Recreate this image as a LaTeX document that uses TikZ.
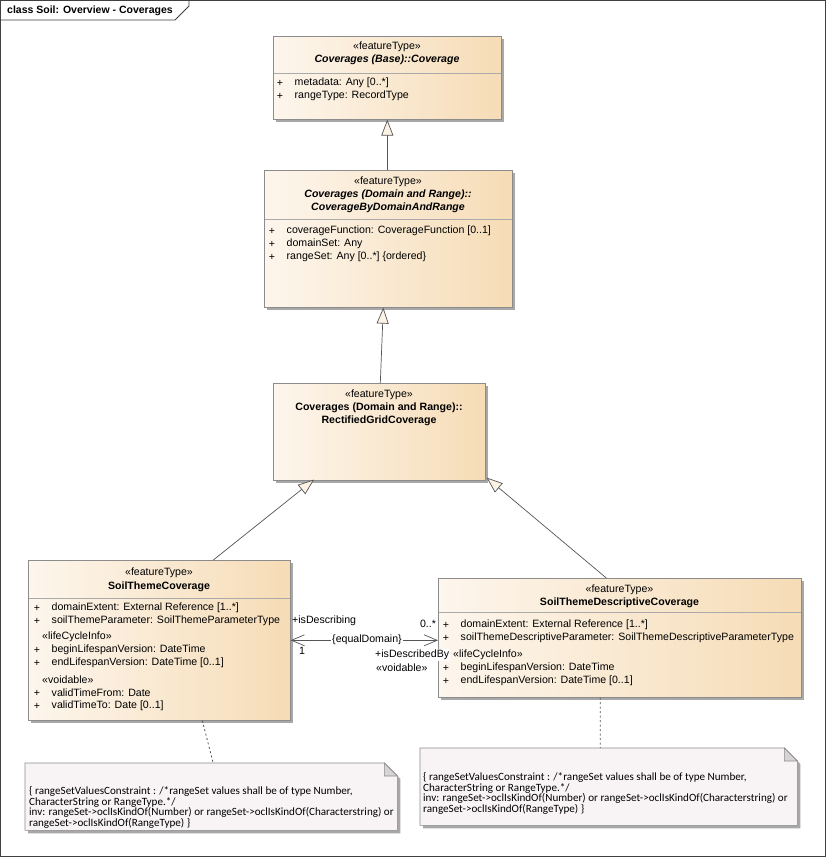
\documentclass[tikz,border=0pt]{standalone}
\usepackage{fontspec}
\setmainfont{Liberation Sans}
\newfontfamily\notefam{Carlito}
\usetikzlibrary{arrows.meta,shadows}
\definecolor{clsL}{RGB}{253,246,237}
\definecolor{clsR}{RGB}{246,220,182}
\definecolor{bordc}{RGB}{140,140,140}
\definecolor{sepc}{RGB}{170,170,170}
\definecolor{shadc}{RGB}{168,168,168}
\definecolor{notec}{RGB}{248,244,246}
\definecolor{foldc}{RGB}{215,212,214}
\definecolor{linec}{RGB}{85,85,85}
\definecolor{arrfill}{RGB}{253,243,228}
\newcommand{\cf}{\fontsize{10.6}{12}\selectfont}
\newcommand{\nf}{\notefam\fontsize{11.1}{10.8}\selectfont}
\newcommand{\umlattr}[4]{%
  \node[ctext] (#1p) at (#2,#3) {+};
  \node[ctext, anchor=west] (#1) at (#2+14.5,#3) {#4};}
\tikzset{
  clsbox/.style={draw=bordc, line width=0.6pt, left color=clsL, right color=clsR,
    anchor=north west, inner sep=0pt,
    drop shadow={shadow xshift=3pt, shadow yshift=-3pt, fill=shadc, opacity=1}},
  ctext/.style={inner sep=0pt, font=\cf},
  sepline/.style={draw=sepc, line width=0.8pt},
  gen/.style={draw=linec, line width=0.7pt, -{Triangle[length=16pt,width=12pt,fill=arrfill]}},
  assoc/.style={draw=linec, line width=0.7pt, {Straight Barb[length=13pt,width=11pt]}-{Straight Barb[length=13pt,width=11pt]}},
  dotline/.style={draw=linec, line width=0.8pt, dash pattern=on 2pt off 2.5pt},
  noteholder/.style={anchor=north west, inner sep=0pt, draw=none},
  notebody/.style={draw=bordc, line width=0.6pt, fill=notec,
    drop shadow={shadow xshift=3pt, shadow yshift=-3pt, fill=shadc, opacity=1}},
  notetext/.style={anchor=north west, inner sep=0pt, align=left, font=\nf},
  lbl/.style={inner sep=0pt, font=\cf}
}
\begin{document}
\begin{tikzpicture}[x=1pt,y=-1pt]
\useasboundingbox (0,0) rectangle (826,857);
\fill[white] (0,0) rectangle (826,857);
% frame
\draw[black!75, line width=0.8pt] (0.5,0.5) rectangle (825.5,856.5);
\draw[black!75, line width=0.8pt] (0.5,20) -- (175,20) -- (189,6) -- (189,0.5);
\node[anchor=west, inner sep=0pt, font=\bfseries\fontsize{10.5}{12}\selectfont] (title) at (7,10.5) {class Soil: Overview - Coverages};

% Coverage
\node[clsbox, minimum width=228pt, minimum height=83pt] (cov) at (273,36) {};
\draw[sepline] (273.5,73) -- (500.5,73);
\node[ctext] (covst) at (387,47) {«featureType»};
\node[ctext, font=\cf\bfseries\itshape] (covnm) at (387,60) {Coverages (Base)::Coverage};
\umlattr{cova}{280}{83}{metadata: Any [0..*]}
\umlattr{covb}{280}{96}{rangeType: RecordType}

% CoverageByDomainAndRange
\node[clsbox, minimum width=248pt, minimum height=137pt] (cbd) at (264,170) {};
\draw[sepline] (264.5,219) -- (511.5,219);
\node[ctext] (cbdst) at (388,182) {«featureType»};
\node[ctext, font=\cf\bfseries\itshape] (cbdn1) at (388,195) {Coverages (Domain and Range)::};
\node[ctext, font=\cf\bfseries\itshape] (cbdn2) at (388,208) {CoverageByDomainAndRange};
\umlattr{cbda}{272}{231}{coverageFunction: CoverageFunction [0..1]}
\umlattr{cbdb}{272}{244}{domainSet: Any}
\umlattr{cbdc}{272}{257}{rangeSet: Any [0..*] \{ordered\}}

% RectifiedGridCoverage
\node[clsbox, minimum width=212pt, minimum height=97pt] (rgc) at (273,383) {};
\node[ctext] (rgcst) at (379,395) {«featureType»};
\node[ctext, font=\cf\bfseries] (rgcn1) at (379,408) {Coverages (Domain and Range)::};
\node[ctext, font=\cf\bfseries] (rgcn2) at (379,421) {RectifiedGridCoverage};

% SoilThemeCoverage
\node[clsbox, minimum width=262pt, minimum height=160pt] (stc) at (28,560) {};
\draw[sepline] (28.5,598) -- (289.5,598);
\node[ctext] (stcst) at (159,573) {«featureType»};
\node[ctext, font=\cf\bfseries] (stcnm) at (159,587) {SoilThemeCoverage};
\umlattr{stca}{37}{608}{domainExtent: External Reference [1..*]}
\umlattr{stcb}{37}{621}{soilThemeParameter: SoilThemeParameterType}
\node[ctext, anchor=west] (stcs1) at (42,637) {«lifeCycleInfo»};
\umlattr{stcc}{37}{650}{beginLifespanVersion: DateTime}
\umlattr{stcd}{37}{663}{endLifespanVersion: DateTime [0..1]}
\node[ctext, anchor=west] (stcs2) at (42,680) {«voidable»};
\umlattr{stce}{37}{693}{validTimeFrom: Date}
\umlattr{stcf}{37}{706}{validTimeTo: Date [0..1]}

% SoilThemeDescriptiveCoverage
\node[clsbox, minimum width=363pt, minimum height=119pt] (stdc) at (438,578) {};
\draw[sepline] (438.5,612) -- (800.5,612);
\node[ctext] (stdcst) at (619.5,590) {«featureType»};
\node[ctext, font=\cf\bfseries] (stdcnm) at (619.5,603) {SoilThemeDescriptiveCoverage};
\umlattr{stda}{446}{625}{domainExtent: External Reference [1..*]}
\umlattr{stdb}{446}{638}{soilThemeDescriptiveParameter: SoilThemeDescriptiveParameterType}
\umlattr{stdc1}{446}{668}{beginLifespanVersion: DateTime}
\umlattr{stdd}{446}{681}{endLifespanVersion: DateTime [0..1]}

% generalizations
\draw[gen] (cbd.north -| cov.south) -- (cov.south);
\draw[gen] ([xshift=1pt]rgc.north) -- ([xshift=-5pt]cbd.south);
\draw[gen] ([xshift=54pt]stc.north) -- ([xshift=41pt,yshift=1pt]rgc.south west);
\draw[gen] ([xshift=-13.5pt]stdc.north) -- ([xshift=1pt,yshift=3pt]rgc.south east);

% association
\draw[assoc] (stc.east) -- (stc.east -| stdc.west);
\node[lbl, fill=white, inner xsep=1pt, inner ysep=0.5pt] (eqd) at (367,640) {\{equalDomain\}};
\node[lbl, anchor=west] (isd) at (292,621) {+isDescribing};
\node[lbl] (m1) at (302,651) {1};
\node[lbl, fill=white, inner xsep=1pt] (m0) at (428,624) {0..*};
\node[lbl, anchor=west, fill=white, inner xsep=1pt, inner ysep=1pt] (isdb) at (374,655) {+isDescribedBy};
\node[lbl, anchor=west] (voi) at (376,668) {«voidable»};
\node[ctext, anchor=west] (stds1) at (453,655) {«lifeCycleInfo»};

% notes
\node[noteholder, minimum width=372pt, minimum height=67pt] (n1) at (25,763) {};
\path[notebody] (n1.north west) -- ([xshift=-13pt]n1.north east) -- ([yshift=-13pt]n1.north east) -- (n1.south east) -- (n1.south west) -- cycle;
\draw[draw=bordc, line width=0.6pt, fill=foldc] ([xshift=-13pt]n1.north east) -- ([xshift=-13pt,yshift=-13pt]n1.north east) -- ([yshift=-13pt]n1.north east) -- cycle;
\node[notetext] (n1t) at (29,786) {\{ rangeSetValuesConstraint : /*rangeSet values shall be of type Number,\\CharacterString or RangeType.*/\\inv: rangeSet->oclIsKindOf(Number) or rangeSet->oclIsKindOf(Characterstring) or\\rangeSet->oclIsKindOf(RangeType) \}};

\node[noteholder, minimum width=377pt, minimum height=77pt] (n2) at (420,748) {};
\path[notebody] (n2.north west) -- ([xshift=-13pt]n2.north east) -- ([yshift=-13pt]n2.north east) -- (n2.south east) -- (n2.south west) -- cycle;
\draw[draw=bordc, line width=0.6pt, fill=foldc] ([xshift=-13pt]n2.north east) -- ([xshift=-13pt,yshift=-13pt]n2.north east) -- ([yshift=-13pt]n2.north east) -- cycle;
\node[notetext] (n2t) at (423,772) {\{ rangeSetValuesConstraint : /*rangeSet values shall be of type Number,\\CharacterString or RangeType.*/\\inv: rangeSet->oclIsKindOf(Number) or rangeSet->oclIsKindOf(Characterstring) or\\rangeSet->oclIsKindOf(RangeType) \}};

% note links
\draw[dotline] ([xshift=43pt]stc.south) -- ([xshift=2pt]n1.north);
\draw[dotline] ([xshift=-19.5pt]stdc.south) -- ([xshift=-8.5pt]n2.north);
\end{tikzpicture}
\end{document}
